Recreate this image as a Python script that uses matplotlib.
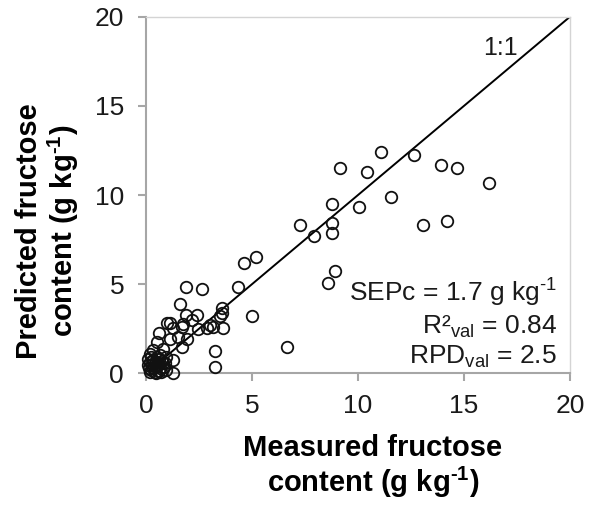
import matplotlib
matplotlib.use("Agg")
import matplotlib.pyplot as plt

plt.rcParams['font.family'] = ['Liberation Sans', 'DejaVu Sans']
plt.rcParams['mathtext.fontset'] = 'custom'
plt.rcParams['mathtext.rm'] = 'Liberation Sans'
plt.rcParams['mathtext.it'] = 'Liberation Sans:italic'
plt.rcParams['mathtext.bf'] = 'Liberation Sans:bold'

measured = [11.08, 12.63, 9.15, 10.44, 13.92, 14.65, 16.18, 11.56, 8.79, 10.05,
            7.26, 8.77, 8.76, 7.94, 13.08, 14.18, 5.19, 4.64, 8.9, 8.58,
            5.0, 6.67, 4.35,
            1.89, 2.63, 1.6, 3.57, 3.57, 3.5, 1.89, 2.39, 2.16, 3.02,
            3.18, 3.62, 0.98, 1.13, 1.76, 2.47, 2.87, 1.52, 3.24, 3.27,
            0.63, 1.28, 0.5, 1.12, 1.91, 1.68, 0.8, 0.33, 0.25, 0.65,
            0.96, 1.29, 0.17, 0.49, 0.8, 0.33, 0.65, 0.96, 0.17, 0.49,
            1.26, 0.1, 0.3, 0.4, 0.6, 0.2, 0.45, 0.7, 0.35, 1.68,
            0.15, 0.55, 0.85, 0.25, 0.6, 0.4, 0.75, 0.1, 0.5, 0.9]
predicted = [12.39, 12.24, 11.5, 11.27, 11.68, 11.53, 10.65, 9.9, 9.48, 9.33,
             8.32, 8.41, 7.85, 7.7, 8.3, 8.56, 6.54, 6.17, 5.76, 5.05,
             3.21, 1.49, 4.86,
             4.86, 4.71, 3.89, 3.65, 3.37, 3.2, 3.27, 3.27, 3.0, 2.71,
             2.6, 2.52, 2.8, 2.8, 2.75, 2.47, 2.54, 2.05, 1.27, 0.34,
             2.28, 2.54, 1.77, 1.95, 1.95, 1.49, 1.39, 1.3, 0.93, 1.02,
             0.93, 0.75, 0.65, 0.65, 0.56, 0.28, 0.28, 0.19, 0.09, 0.0,
             0.0, 0.46, 0.5, 0.1, 0.8, 1.1, 0.35, 0.05, 0.75, 2.58,
             0.3, 0.45, 0.35, 0.2, 0.15, 0.55, 0.7, 0.8, 0.9, 0.6]

ticks = [0, 5, 10, 15, 20]

fig = plt.figure(figsize=(5.9, 5.05), dpi=100)
ax = fig.add_axes([0.2475, 0.2608, 0.7186, 0.7061])

ax.plot([0, 20], [0, 20], color='black', lw=1.4, zorder=2)
ax.plot(measured, predicted, linestyle='none', marker='o', ms=8.3,
        mfc='none', mec='#111111', mew=1.3, zorder=3, clip_on=False)

ax.set_xlim(0, 20)
ax.set_ylim(0, 20)
ax.set_xticks(ticks)
ax.set_yticks(ticks)
ax.set_xticklabels([str(t) for t in ticks])
ax.set_yticklabels([str(t) for t in ticks])

for s in ['top', 'right']:
    ax.spines[s].set_color('#d4d4d4')
    ax.spines[s].set_linewidth(1.0)
for s in ['left', 'bottom']:
    ax.spines[s].set_color('#a6a6a6')
    ax.spines[s].set_linewidth(1.5)
ax.tick_params(axis='both', direction='out', length=5.8, width=1.5,
               color='#a6a6a6', labelsize=19, labelcolor='#1a1a1a')
ax.tick_params(axis='y', pad=10)
ax.tick_params(axis='x', pad=9)

ax.text(15.91, 17.85, '1:1', fontsize=18, color='#1a1a1a', va='baseline')
ax.text(19.37, 4.02, 'SEPc = 1.7 g kg$^{\\mathregular{\u20101}}$', fontsize=19,
        ha='right', va='baseline', color='#1a1a1a')
ax.text(19.37, 2.24, 'R²$_{\\mathregular{val}}$ = 0.84', fontsize=19,
        ha='right', va='baseline', color='#1a1a1a')
ax.text(19.37, 0.56, 'RPD$_{\\mathregular{val}}$ = 2.5', fontsize=19,
        ha='right', va='baseline', color='#1a1a1a')

ax.set_xlabel('Measured fructose\ncontent (g kg$^{\\mathregular{\u20101}}$)',
              fontsize=21, fontweight='bold', linespacing=1.1)
ax.xaxis.set_label_coords(0.535, -0.17)
ax.xaxis.label.set_va('top')
ax.set_ylabel('Predicted fructose\ncontent (g kg$^{\\mathregular{\u20101}}$)',
              fontsize=21, fontweight='bold', linespacing=1.1)
ax.yaxis.label.set_va('center')
ax.yaxis.set_label_coords(-0.231, 0.40)

fig.savefig('out.png', dpi=100)
